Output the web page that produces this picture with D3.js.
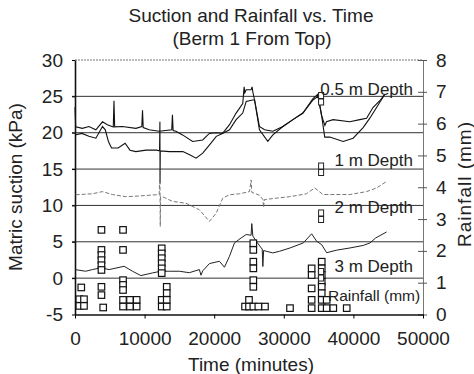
<!DOCTYPE html>
<html>
<head>
<meta charset="utf-8">
<script src="https://cdnjs.cloudflare.com/ajax/libs/d3/7.8.5/d3.min.js"></script>
<style>
  body { margin: 0; background: #fff; }
  svg { font-family: "Liberation Sans", Arial, sans-serif; }
</style>
</head>
<body>
<div id="chart"></div>
<script>
// matric suction (kPa) per time (minutes)
const depth05 = [[0,23.5],[100,20.8],[1050,20.6],[2000,20.85],[3000,20.4],[3950,21.5],[4650,21.1],[5500,20.8],[5600,24.4],[5700,20.8],
  [6800,20.85],[8750,20.6],[9600,20.85],[9700,23.1],[9800,20.7],[10650,20.4],[12100,20.2],[13900,20.4],[14000,22.45],[14100,20.3],
  [14500,20.2],[15450,19.7],[16900,18.8],[18350,19.0],[19300,19.9],[20300,20.0],[21200,19.9],[22200,21.1],[23150,22.7],[24100,24.0],
  [24300,26.3],[24400,25.5],[24600,25.9],[25300,25.9],[25450,26.3],[25550,25.6],[25800,24.5],[26500,20.85],[27230,20.4],[28430,20.2],
  [29870,20.85],[31310,21.8],[32750,22.7],[34190,24.7],[34910,25.3],[35400,22.45],[35900,21.0],[36120,21.5],[37080,21.8],[39480,21.5],
  [40920,21.8],[41890,22.0],[42840,23.5],[43800,24.4],[44520,25.3]];
const depth1 = [[0,19.7],[1000,19.9],[2000,19.5],[3000,19.25],[3950,20.85],[4350,20.4],[4800,18.8],[5250,17.9],[6200,17.9],[7200,18.55],
  [7900,17.6],[8750,17.4],[10200,17.6],[11700,17.6],[12150,17.5],[12200,21.5],[12220,13.0],[12250,17.5],[13600,17.4],[15500,17.4],
  [16400,17.0],[17400,16.5],[18350,17.2],[19300,18.3],[20300,19.5],[21200,19.9],[22200,20.4],[23150,21.8],[24100,22.7],[24600,24.3],
  [25500,24.5],[25800,24.5],[26500,20.4],[27700,18.8],[28430,19.7],[29870,20.85],[31310,21.8],[32750,22.7],[34190,24.5],[34910,25.0],
  [35400,22.6],[35880,19.4],[36600,19.4],[38520,18.8],[39960,19.25],[41400,20.7],[42360,22.0],[44520,25.3]];
const depth2 = [[100,11.47],[2500,11.6],[3930,11.9],[5370,11.5],[7300,11.2],[9220,11.3],[12100,11.5],[12200,14.9],[12250,7.1],[12300,11.2],
  [12580,11.2],[14020,10.55],[15950,10.3],[17870,9.4],[19310,7.8],[20270,8.9],[21230,11.0],[22190,11.47],[23630,11.6],[25070,11.9],
  [25310,13.5],[25400,11.8],[26510,11.4],[27000,10.8],[27100,9.7],[27200,10.8],[28920,11.0],[30840,11.2],[33240,11.6],[34440,12.4],
  [35630,11.5],[37560,11.5],[39480,11.5],[41890,11.9],[43330,12.4],[44770,13.3]];
const depth3 = [[0,1.18],[1540,0.95],[2500,1.18],[3690,1.41],[4900,1.18],[7060,1.63],[8260,0.95],[9470,0.35],[11140,0.72],[12340,0.95],
  [13540,0.95],[14980,0.95],[16430,0.75],[17870,1.18],[18100,0.4],[18350,1.0],[19310,2.0],[20750,2.32],[21470,1.5],[22190,3.0],
  [22910,4.84],[23870,5.53],[24600,6.0],[25300,5.9],[25400,7.5],[25550,5.8],[26040,5.07],[26760,4.15],[26900,4.0],[26990,1.6],
  [27100,3.8],[27470,3.7],[28430,3.47],[29400,3.7],[30890,4.15],[32800,4.84],[34000,6.1],[34720,5.07],[35440,4.6],[36160,3.5],
  [37600,3.85],[39510,4.15],[41420,4.5],[42380,4.84],[43200,5.53],[44770,6.35]];

// rainfall (mm) per time (minutes)
const rainfall = [[620,0.48],[1290,0.48],[620,0.27],[1290,0.27],[900,0.85],
  [3800,2.66],[3800,2.03],[3800,1.87],[3800,1.71],[3800,1.55],[3800,1.40],[3800,0.87],[3800,0.61],[4050,0.22],
  [6900,2.66],[6900,2.03],[6900,1.08],[6900,0.93],[6900,0.77],[6900,0.46],[6900,0.25],[7900,0.46],[7900,0.25],[8860,0.46],[8860,0.25],
  [12460,2.08],[12460,1.92],[12460,1.77],[12460,1.61],[12460,1.45],[12460,1.30],[12460,0.46],[12460,0.25],
  [13180,0.87],[13180,0.67],[13180,0.46],[13180,0.25],
  [24430,0.25],[25000,0.25],[25000,0.46],[25620,2.24],[25620,2.03],[25620,1.66],[25620,1.45],[25620,1.08],[25620,0.87],[25620,0.25],
  [26340,0.25],[27300,0.25],[30890,0.2],
  [34000,1.45],[34000,1.24],[34000,0.82],[34000,0.46],[34000,0.2],
  [35450,1.66],[35450,1.45],[35450,1.24],[35450,1.03],[35450,0.87],[35450,0.67],[35450,0.46],[35450,0.2],
  [36160,0.46],[36160,0.2],[37110,0.2],[39040,0.2]];

const timeTicks = [0, 10000, 20000, 30000, 40000, 50000];
const suctionTicks = [-5, 0, 5, 10, 15, 20, 25, 30];
const rainTicks = [0, 1, 2, 3, 4, 5, 6, 7, 8];
const seriesNames = ["0.5 m Depth", "1 m Depth", "2 m Depth", "3 m Depth", "Rainfall (mm)"];

const width = 474, height = 374;
const plotLeft = 75, plotRight = 423, plotTop = 60, plotBottom = 314.5;

const svg = d3.select("#chart").append("svg")
  .attr("width", width)
  .attr("height", height);

const x = d3.scaleLinear().domain([0, 50000]).range([plotLeft, plotRight]);
const y = d3.scaleLinear().domain([-5, 30]).range([plotBottom, plotTop]);
const yRain = d3.scaleLinear().domain([0, 8]).range([plotBottom, plotTop]);

// title
svg.append("text").attr("x", 251).attr("y", 22).attr("text-anchor", "middle")
  .attr("font-size", 19).attr("fill", "#222").text("Suction and Rainfall vs. Time");
svg.append("text").attr("x", 252).attr("y", 45).attr("text-anchor", "middle")
  .attr("font-size", 19).attr("fill", "#222").text("(Berm 1 From Top)");

// gridlines at each suction tick
svg.append("g").selectAll("line")
  .data(suctionTicks.filter(d => d > -5 && d < 30))
  .join("line")
  .attr("x1", plotLeft - 3).attr("x2", plotRight)
  .attr("y1", d => y(d)).attr("y2", d => y(d))
  .attr("stroke", "#333").attr("stroke-width", 1);

// dotted top frame
svg.append("line")
  .attr("x1", plotLeft).attr("x2", plotRight).attr("y1", y(30)).attr("y2", y(30))
  .attr("stroke", "#777").attr("stroke-width", 1.2).attr("stroke-dasharray", "2,1");

// left axis
const yAxis = svg.append("g").attr("transform", `translate(${plotLeft},0)`)
  .call(d3.axisLeft(y).tickValues(suctionTicks).tickSize(3).tickSizeOuter(0).tickPadding(9));
yAxis.select(".domain").attr("stroke", "#111").attr("stroke-width", 1.6);
yAxis.selectAll("text").attr("font-size", 19).attr("fill", "#222")
  .text(d => d < 0 ? "-" + Math.abs(d) : d);

// right axis for rainfall
const rAxis = svg.append("g").attr("transform", `translate(${plotRight},0)`)
  .call(d3.axisRight(yRain).tickValues(rainTicks).tickSize(4).tickSizeOuter(0).tickPadding(9));
rAxis.select(".domain").attr("stroke", "#777");
rAxis.selectAll(".tick line").attr("x1", -5).attr("stroke", "#555");
rAxis.selectAll("text").attr("font-size", 19).attr("fill", "#222");

// bottom axis
const xAxis = svg.append("g").attr("transform", `translate(0,${plotBottom})`)
  .call(d3.axisBottom(x).tickValues(timeTicks).tickSize(4).tickSizeOuter(0).tickPadding(13)
    .tickFormat(d3.format("d")));
xAxis.select(".domain").attr("stroke", "#111").attr("stroke-width", 1.3);
xAxis.selectAll("text").attr("font-size", 19).attr("fill", "#222");

// axis titles
svg.append("text").attr("transform", `translate(22,187) rotate(-90)`)
  .attr("text-anchor", "middle").attr("font-size", 19).attr("fill", "#222")
  .text("Matric suction (kPa)");
svg.append("text").attr("transform", `translate(471,184) rotate(-90)`)
  .attr("text-anchor", "middle").attr("font-size", 19).attr("letter-spacing", 1)
  .attr("fill", "#222").text("Rainfall (mm)");
svg.append("text").attr("x", 251).attr("y", 371).attr("text-anchor", "middle")
  .attr("font-size", 19).attr("fill", "#222").text("Time (minutes)");

// suction lines
const line = d3.line().x(d => x(d[0])).y(d => y(d[1]));
const lineStyles = [
  { data: depth05, stroke: "#111", w: 1.1, dash: null },
  { data: depth1, stroke: "#111", w: 1.1, dash: null },
  { data: depth2, stroke: "#777", w: 1, dash: "4,2" },
  { data: depth3, stroke: "#222", w: 1, dash: null }
];
lineStyles.forEach(s => {
  svg.append("path")
    .datum(s.data)
    .attr("d", line)
    .attr("fill", "none")
    .attr("stroke", s.stroke)
    .attr("stroke-width", s.w)
    .attr("stroke-dasharray", s.dash);
});

// rainfall points as open squares
const sq = 6.5;
svg.append("g").selectAll("rect")
  .data(rainfall)
  .join("rect")
  .attr("x", d => x(d[0]) - sq / 2)
  .attr("y", d => yRain(d[1]) - sq / 2)
  .attr("width", sq).attr("height", sq)
  .attr("fill", "#fff").attr("stroke", "#111").attr("stroke-width", 1.2);

// in-plot series labels (suction units for placement)
const labelAt = [25.12, 15.42, 8.96, 0.91];
labelAt.forEach((v, i) => {
  const ly = y(v);
  // two small stacked squares as the marker
  [0, 1].forEach(k => {
    svg.append("rect")
      .attr("x", x(35000)).attr("y", ly - 3 + k * 6.5)
      .attr("width", 5).attr("height", 6)
      .attr("fill", "#fff").attr("stroke", "#222").attr("stroke-width", 1);
  });
  svg.append("text")
    .attr("x", x(48560)).attr("y", ly)
    .attr("text-anchor", "end")
    .attr("font-size", 17).attr("fill", "#222")
    .text(seriesNames[i]);
});
svg.append("text")
  .attr("x", x(36350)).attr("y", y(-3.15))
  .attr("font-size", 15.5).attr("fill", "#222")
  .text(seriesNames[4]);
</script>
</body>
</html>
